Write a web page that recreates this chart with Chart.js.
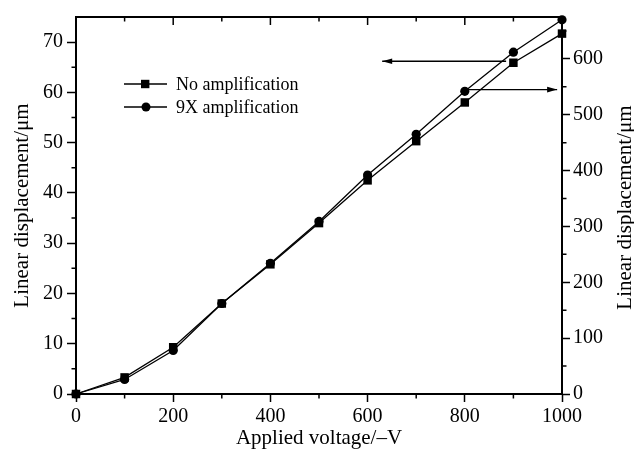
<!DOCTYPE html>
<html><head><meta charset="utf-8">
<script src="https://cdn.jsdelivr.net/npm/chart.js@4.4.0/dist/chart.umd.min.js"></script>
<style>html,body{margin:0;padding:0;background:#fff;}#wrap{width:634px;height:454px;}</style>
</head><body><div id="wrap"><canvas id="c" width="634" height="454"></canvas></div>
<script>
// ---- data ----
const voltages = [0, 100, 200, 300, 400, 500, 600, 700, 800, 900, 1000];
const noAmplification = [0, 3.3, 9.3, 18.0, 25.8, 34.0, 42.5, 50.3, 58.0, 65.9, 71.7];
const amplification9x = [0, 26, 78, 162, 234, 309, 392, 465, 542, 612, 670];
const seriesLabels = ['No amplification', '9X amplification'];
const xTicks = [0, 200, 400, 600, 800, 1000];
const leftTicks = [0, 10, 20, 30, 40, 50, 60, 70];
const rightTicks = [0, 100, 200, 300, 400, 500, 600];
const xMinorTicks = [100, 300, 500, 700, 900];
const leftMinorTicks = [5, 15, 25, 35, 45, 55, 65];
const rightMinorTicks = [50, 150, 250, 350, 450, 550, 650];
const xTitle = 'Applied voltage/\u2013V';
const yTitle = 'Linear displacement/\u03bcm';

const FONT = "'Liberation Serif', 'Times New Roman', serif";

const extrasPlugin = {
  id: 'extras',
  afterDraw(chart) {
    const ctx = chart.ctx, a = chart.chartArea;
    const x = chart.scales.x, yl = chart.scales.y, yr = chart.scales.y2;
    ctx.save();
    ctx.strokeStyle = '#000';
    // top frame
    ctx.lineWidth = 2;
    ctx.beginPath(); ctx.moveTo(a.left - 1, a.top); ctx.lineTo(a.right + 1, a.top); ctx.stroke();
    ctx.lineWidth = 1.5;
    ctx.beginPath();
    // bottom minor ticks (outward)
    xMinorTicks.forEach(v => { const px = x.getPixelForValue(v); ctx.moveTo(px, a.bottom); ctx.lineTo(px, a.bottom + 4.5); });
    // top ticks (inward)
    xTicks.forEach(v => { const px = x.getPixelForValue(v); ctx.moveTo(px, a.top); ctx.lineTo(px, a.top + 8); });
    xMinorTicks.forEach(v => { const px = x.getPixelForValue(v); ctx.moveTo(px, a.top); ctx.lineTo(px, a.top + 4.5); });
    // left minor ticks (outward)
    leftMinorTicks.forEach(v => { const py = yl.getPixelForValue(v); ctx.moveTo(a.left, py); ctx.lineTo(a.left - 4.5, py); });
    // right minor ticks (outward)
    rightMinorTicks.forEach(v => { const py = yr.getPixelForValue(v); ctx.moveTo(a.right, py); ctx.lineTo(a.right + 4.5, py); });
    ctx.stroke();

    // arrows
    const arrow = (x1, y1, x2, y2) => {
      ctx.lineWidth = 1.3;
      ctx.beginPath(); ctx.moveTo(x1, y1); ctx.lineTo(x2, y2); ctx.stroke();
      const dir = Math.sign(x2 - x1);
      ctx.beginPath();
      ctx.moveTo(x2, y2); ctx.lineTo(x2 - dir * 10, y2 - 2.8); ctx.lineTo(x2 - dir * 10, y2 + 2.8); ctx.closePath();
      ctx.fillStyle = '#000'; ctx.fill();
    };
    const ly = yl.getPixelForValue(66.2);
    arrow(x.getPixelForValue(885), ly, x.getPixelForValue(630), ly);
    const ry = yr.getPixelForValue(545);
    arrow(x.getPixelForValue(800), ry, x.getPixelForValue(990), ry);

    // legend
    const ds = chart.data.datasets;
    const rows = [84, 107];
    ds.forEach((d, i) => {
      const yy = rows[i];
      ctx.lineWidth = 1.3;
      ctx.beginPath(); ctx.moveTo(124, yy); ctx.lineTo(167, yy); ctx.stroke();
      ctx.fillStyle = '#000';
      if (d.pointStyle === 'rect') { ctx.fillRect(141, yy - 4.2, 8.4, 8.4); }
      else { ctx.beginPath(); ctx.arc(146, yy, 4.5, 0, Math.PI * 2); ctx.fill(); }
      ctx.font = '18px ' + FONT;
      ctx.textAlign = 'left'; ctx.textBaseline = 'middle';
      ctx.fillText(d.label, 176, yy + 1);
    });

    // right axis title (reads bottom to top)
    ctx.save();
    ctx.translate(625, (a.top + a.bottom) / 2 + 2);
    ctx.rotate(-Math.PI / 2);
    ctx.font = '21px ' + FONT;
    ctx.textAlign = 'center'; ctx.textBaseline = 'middle';
    ctx.fillStyle = '#000';
    ctx.fillText(yTitle, 0, 0);
    ctx.restore();
    ctx.restore();
  }
};

const toPts = (ys) => voltages.map((v, i) => ({ x: v, y: ys[i] }));
const setTicks = (arr) => (scale) => { scale.ticks = arr.map(v => ({ value: v })); };
const plain = (v) => String(v);

new Chart(document.getElementById('c'), {
  type: 'line',
  data: {
    datasets: [
      { label: seriesLabels[0], data: toPts(noAmplification), yAxisID: 'y', borderColor: '#000', backgroundColor: '#000',
        borderWidth: 1.3, pointStyle: 'rect', pointRadius: 6, pointBorderWidth: 0, tension: 0, clip: false },
      { label: seriesLabels[1], data: toPts(amplification9x), yAxisID: 'y2', borderColor: '#000', backgroundColor: '#000',
        borderWidth: 1.3, pointStyle: 'circle', pointRadius: 4.6, pointBorderWidth: 0, tension: 0, clip: false }
    ]
  },
  options: {
    responsive: false, animation: false, devicePixelRatio: 1,
    layout: { padding: { top: 17, left: 0, right: 0, bottom: 0 } },
    plugins: { legend: { display: false }, tooltip: { enabled: false } },
    scales: {
      x: {
        type: 'linear', position: 'bottom', min: 0, max: 1000,
        afterBuildTicks: setTicks(xTicks),
        afterFit: (s) => { s.height = 60; },
        ticks: { color: '#000', font: { family: FONT, size: 20 }, padding: 3, maxRotation: 0, autoSkip: false, callback: plain },
        grid: { drawOnChartArea: false, tickLength: 8, tickWidth: 1.5, tickColor: '#000' },
        border: { display: true, color: '#000', width: 2 },
        title: { display: true, text: xTitle, color: '#000', font: { family: FONT, size: 21, lineHeight: 1 }, padding: { top: 0, bottom: 5 } }
      },
      y: {
        type: 'linear', position: 'left', min: 0, max: 75,
        afterBuildTicks: setTicks(leftTicks),
        afterFit: (s) => { s.width = 76; },
        ticks: { color: '#000', font: { family: FONT, size: 20 }, padding: 4, autoSkip: false, callback: plain },
        grid: { drawOnChartArea: false, tickLength: 9, tickWidth: 1.5, tickColor: '#000' },
        border: { display: true, color: '#000', width: 2 },
        title: { display: true, text: yTitle, color: '#000', font: { family: FONT, size: 21, lineHeight: 1 }, padding: { top: 12, bottom: 0 } }
      },
      y2: {
        type: 'linear', position: 'right', min: 0, max: 675,
        afterBuildTicks: setTicks(rightTicks),
        afterFit: (s) => { s.width = 72; },
        ticks: { color: '#000', font: { family: FONT, size: 20 }, padding: 3, autoSkip: false, callback: plain },
        grid: { drawOnChartArea: false, tickLength: 8, tickWidth: 1.5, tickColor: '#000' },
        border: { display: true, color: '#000', width: 2 }
      }
    }
  },
  plugins: [extrasPlugin]
});
</script></body></html>
